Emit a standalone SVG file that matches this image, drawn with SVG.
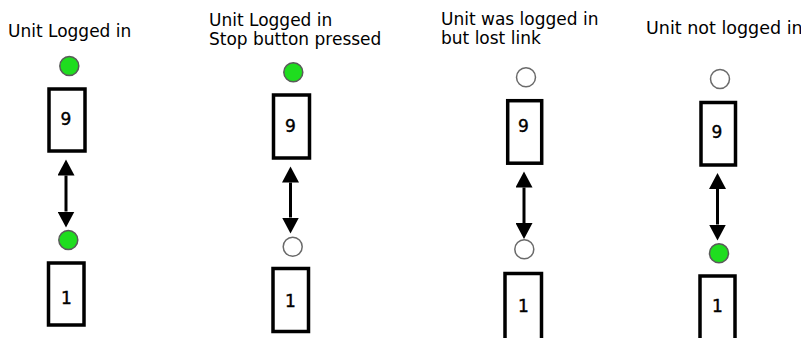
<svg xmlns="http://www.w3.org/2000/svg" width="801" height="338" viewBox="0 0 801 338">
<style>
.lbl{font-family:"DejaVu Sans","Liberation Sans",sans-serif;font-size:17px;fill:#000}
.num{font-family:"DejaVu Sans","Liberation Sans",sans-serif;font-size:17px;fill:#000;text-anchor:middle;stroke:#000;stroke-width:0.4}
.box{fill:#fff;stroke:#000;stroke-width:3.5}
.on{fill:#1fdd1f;stroke:#5a5a5a;stroke-width:1.5}
.off{fill:#fff;stroke:#6a6a6a;stroke-width:1.5}
.link{stroke:#000;stroke-width:3;fill:none;marker-start:url(#ah);marker-end:url(#ah)}
</style>
<defs>
<marker id="ah" markerUnits="userSpaceOnUse" markerWidth="17" markerHeight="17" refX="0" refY="8.5" orient="auto-start-reverse">
<path d="M0,0 L16,8.5 L0,17 z" fill="#000"/>
</marker>
</defs>
<rect width="801" height="338" fill="#fff"/>
<g id="labels">
<text class="lbl" x="8" y="36.5">Unit Logged in</text>
<text class="lbl" x="209" y="25.5">Unit Logged in</text>
<text class="lbl" x="209" y="44.5">Stop button pressed</text>
<text class="lbl" x="441" y="25">Unit was logged in</text>
<text class="lbl" x="441" y="44">but lost link</text>
<text class="lbl" x="646" y="34" style="font-size:17.5px">Unit not logged in</text>
</g>
<g id="connectors">
<line class="link" x1="66" y1="175.5" x2="66" y2="211.5"/>
<line class="link" x1="290.5" y1="182.5" x2="290.5" y2="217.5"/>
<line class="link" x1="524" y1="187.5" x2="524" y2="223"/>
<line class="link" x1="717.5" y1="189" x2="717.5" y2="224.5"/>
</g>
<g id="panel1">
<g id="p1-led-top"><circle class="on" cx="69.3" cy="66" r="9.5"/></g>
<g id="p1-unit9"><rect class="box" x="49" y="89" width="36" height="62"/><text class="num" x="66" y="125">9</text></g>
<g id="p1-led-bottom"><circle class="on" cx="68.3" cy="240" r="9.5"/></g>
<g id="p1-unit1"><rect class="box" x="48.5" y="263" width="35.5" height="62"/><text class="num" x="66.5" y="304">1</text></g>
</g>
<g id="panel2">
<g id="p2-led-top"><circle class="on" cx="293.3" cy="72.3" r="9.5"/></g>
<g id="p2-unit9"><rect class="box" x="273.5" y="95" width="36" height="63"/><text class="num" x="290.5" y="131.5">9</text></g>
<g id="p2-led-bottom"><circle class="off" cx="292.7" cy="246.7" r="9.5"/></g>
<g id="p2-unit1"><rect class="box" x="273" y="268.5" width="35.5" height="63"/><text class="num" x="290.5" y="306.5">1</text></g>
</g>
<g id="panel3">
<g id="p3-led-top"><circle class="off" cx="526" cy="77.3" r="9.5"/></g>
<g id="p3-unit9"><rect class="box" x="507.7" y="100.7" width="34" height="62.5"/><text class="num" x="523.5" y="131.5">9</text></g>
<g id="p3-led-bottom"><circle class="off" cx="524.3" cy="249.3" r="9.5"/></g>
<g id="p3-unit1"><rect class="box" x="505" y="273.5" width="36.5" height="70"/><text class="num" x="523.5" y="311.5">1</text></g>
</g>
<g id="panel4">
<g id="p4-led-top"><circle class="off" cx="720" cy="79" r="9.5"/></g>
<g id="p4-unit9"><rect class="box" x="701" y="102.5" width="34.5" height="62.5"/><text class="num" x="717" y="138">9</text></g>
<g id="p4-led-bottom"><circle class="on" cx="719" cy="253.3" r="9.5"/></g>
<g id="p4-unit1"><rect class="box" x="700" y="276" width="35" height="70"/><text class="num" x="717.5" y="311.5">1</text></g>
</g>
</svg>
